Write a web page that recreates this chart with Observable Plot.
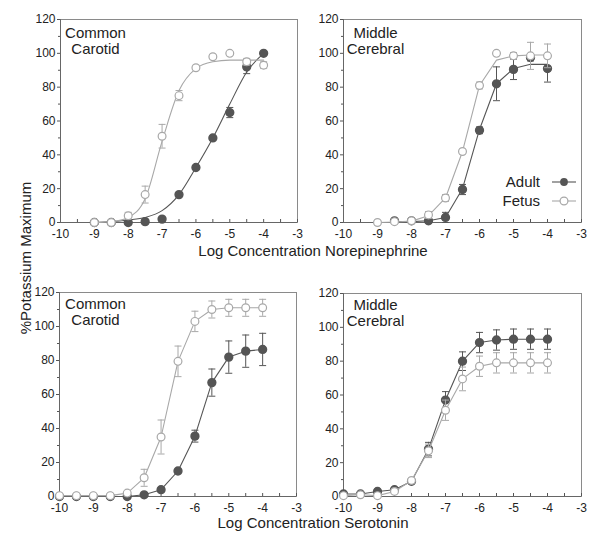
<!DOCTYPE html>
<html><head><meta charset="utf-8">
<script src="https://cdn.jsdelivr.net/npm/d3@7"></script>
<script src="https://cdn.jsdelivr.net/npm/@observablehq/plot@0.6"></script>
<style>
body{margin:0;background:#fff;font-family:"Liberation Sans",Arial,sans-serif;}
#fig{position:relative;width:600px;height:539px;overflow:hidden;}
#fig > svg{position:absolute;}
</style></head><body><div id="fig"></div>
<script>
// ---- axes ----
const xTicks = [-10, -9, -8, -7, -6, -5, -4, -3];
const xMinorTicks = [-9.5, -8.5, -7.5, -6.5, -5.5, -4.5, -3.5];
const yTicks = [0, 20, 40, 60, 80, 100, 120];
const yMinorTicks = [10, 30, 50, 70, 90, 110];

// ---- Norepinephrine, Common Carotid ----
const neConc = [-9, -8.5, -8, -7.5, -7, -6.5, -6, -5.5, -5, -4.5, -4];
const ccNeAdult = [0, 0, 0, 0.5, 2, 16.5, 32.5, 50, 65, 92, 100];
const ccNeAdultErr = [0, 0, 0, 0, 0, 1, 1, 1, 3, 4, 0];
const ccNeFetus = [0, 0, 4, 16.5, 51, 75, 91.5, 98, 100, 95, 93];
const ccNeFetusErr = [0, 0, 2, 5, 7, 3, 1, 1, 1, 2, 2];
const ccNeAdultFit = [0, 0.5, 1.5, 3, 7, 16.5, 32.5, 50, 70, 89, 100];
const ccNeFetusFit = [0, 0.5, 3, 14, 48, 78, 91, 95, 96, 96, 96];

// ---- Norepinephrine, Middle Cerebral ----
const mcNeAdultConc = [-8.5, -8, -7.5, -7, -6.5, -6, -5.5, -5, -4.5, -4];
const mcNeAdult = [1, 1, 1, 3, 19.5, 54.5, 82, 90.5, 97.5, 91];
const mcNeAdultErr = [0, 0, 0, 3, 3, 2, 10, 6, 2, 8];
const mcNeFetus = [0, 0.5, 1, 4.5, 14.5, 42, 81, 100, 98.5, 98.5, 98.5];
const mcNeFetusErr = [0, 0, 0, 2, 2, 1, 2, 1, 2, 8, 7];
const mcNeAdultFit = [0.5, 0.5, 1, 3, 20, 55, 82, 91, 93.5, 93.5];
const mcNeFetusFit = [0, 0.3, 0.8, 4, 14.5, 42, 81, 96, 98.5, 99, 99];

// ---- Serotonin ----
const seConc = [-10, -9.5, -9, -8.5, -8, -7.5, -7, -6.5, -6, -5.5, -5, -4.5, -4];
const ccSeAdult = [0, 0, 0, 0, 0, 1, 4, 15, 35.5, 67, 82, 85.5, 86.5];
const ccSeAdultErr = [0, 0, 0, 0, 0, 0, 1, 1, 3.5, 8, 9.5, 9.5, 9.5];
const ccSeFetus = [0.5, 0.5, 0.5, 0.5, 2, 11, 35, 79.5, 103, 110, 111, 111, 111];
const ccSeFetusErr = [0, 0, 0, 0, 0, 5, 10, 9, 6, 5, 5, 5, 5];
const mcSeAdult = [1.5, 1.5, 3, 4, 9, 28, 57, 80, 91, 92.5, 93, 93, 93];
const mcSeAdultErr = [0, 0, 0, 0, 1, 4, 5, 5.5, 6, 6, 6, 6, 6];
const mcSeFetus = [0.5, 1, 0.5, 3, 9.5, 27, 51, 69.5, 77, 79, 79, 79, 79];
const mcSeFetusErr = [0, 0, 0, 0, 1, 4, 6, 7, 6, 6, 6, 6, 6];

const adultColor = "#555555";
const fetusColor = "#a8a8a8";

const capSymbol = {draw(ctx, size) { const w = Math.sqrt(size / Math.PI); ctx.moveTo(-w, 0); ctx.lineTo(w, 0); }};

function rows(xs, ys, es) { return xs.map((x, i) => ({x, y: ys[i], e: es ? es[i] : 0})); }

function errMarks(data, color) {
  const d = data.filter(r => r.e > 0);
  return [
    Plot.ruleX(d, {x: "x", y1: r => r.y - r.e, y2: r => r.y + r.e, stroke: color, strokeWidth: 1}),
    Plot.dot(d, {x: "x", y: r => r.y + r.e, symbol: capSymbol, r: 3.5, stroke: color, strokeWidth: 1}),
    Plot.dot(d, {x: "x", y: r => r.y - r.e, symbol: capSymbol, r: 3.5, stroke: color, strokeWidth: 1})
  ];
}

function panel(o) {
  const adult = rows(o.adultX, o.adultY, o.adultErr);
  const fetus = rows(o.fetusX, o.fetusY, o.fetusErr);
  const aFit = rows(o.adultFitX, o.adultFit);
  const fFit = rows(o.fetusFitX, o.fetusFit);
  const svg = Plot.plot({
    width: o.width, height: o.height,
    marginLeft: o.ml, marginRight: o.mr, marginTop: o.mt, marginBottom: o.mb,
    x: {domain: [-10, -3]},
    y: {domain: [0, 120]},
    style: {fontFamily: "'Liberation Sans', Arial, sans-serif", fontSize: "12px", background: "transparent", overflow: "visible", color: "#222"},
    marks: [
      Plot.frame({stroke: "#8a8a8a"}),
      Plot.axisY(yTicks, {tickSize: 3, tickPadding: 2, stroke: "#555", fill: "#222", label: null, tickFormat: d => `${d}`}),
      Plot.axisY(yMinorTicks, {tickSize: 2, tickFormat: () => "", stroke: "#555", label: null}),
      Plot.axisX(xTicks, {tickSize: 0, tickPadding: 7, fill: "#222", label: null, tickFormat: d => `${d}`}),
      Plot.axisX([...xTicks, ...xMinorTicks], {tickSize: -3, tickFormat: () => "", stroke: "#555", label: null}),
      Plot.ruleY([0], {stroke: "#666"}),
      Plot.ruleX([-10], {stroke: "#666"}),
      ...errMarks(adult, adultColor),
      Plot.line(aFit, {x: "x", y: "y", stroke: adultColor, strokeWidth: 1.1, curve: o.curve}),
      Plot.dot(adult, {x: "x", y: "y", r: 3.9, fill: adultColor, stroke: adultColor}),
      ...errMarks(fetus, fetusColor),
      Plot.line(fFit, {x: "x", y: "y", stroke: fetusColor, strokeWidth: 1.1, curve: o.curve}),
      Plot.dot(fetus, {x: "x", y: "y", r: 3.9, fill: "white", stroke: fetusColor, strokeWidth: 1.2}),
      Plot.text([o.label], {frameAnchor: "top-left", dx: o.ldx, dy: o.ldy, textAnchor: "middle", lineAnchor: "top", lineHeight: 1.13, fontSize: 15, fill: "#222"})
    ]
  });
  svg.style.left = o.left + "px";
  svg.style.top = o.top + "px";
  document.getElementById("fig").appendChild(svg);
}

panel({left: 0, top: 0, width: 320, height: 270, ml: 60, mr: 23, mt: 19, mb: 48,
  adultX: neConc, adultY: ccNeAdult, adultErr: ccNeAdultErr,
  fetusX: neConc, fetusY: ccNeFetus, fetusErr: ccNeFetusErr,
  adultFitX: neConc, adultFit: ccNeAdultFit, fetusFitX: neConc, fetusFit: ccNeFetusFit,
  curve: "monotone-x", label: "Common\nCarotid", ldx: 35, ldy: 6});

panel({left: 300, top: 0, width: 300, height: 270, ml: 43, mr: 19, mt: 19, mb: 48,
  adultX: mcNeAdultConc, adultY: mcNeAdult, adultErr: mcNeAdultErr,
  fetusX: neConc, fetusY: mcNeFetus, fetusErr: mcNeFetusErr,
  adultFitX: mcNeAdultConc, adultFit: mcNeAdultFit, fetusFitX: neConc, fetusFit: mcNeFetusFit,
  curve: "linear", label: "Middle\nCerebral", ldx: 32, ldy: 6});

panel({left: 0, top: 270, width: 320, height: 269, ml: 59, mr: 24, mt: 22, mb: 43,
  adultX: seConc, adultY: ccSeAdult, adultErr: ccSeAdultErr,
  fetusX: seConc, fetusY: ccSeFetus, fetusErr: ccSeFetusErr,
  adultFitX: seConc, adultFit: ccSeAdult, fetusFitX: seConc, fetusFit: ccSeFetus,
  curve: "linear", label: "Common\nCarotid", ldx: 36, ldy: 4});

panel({left: 300, top: 270, width: 300, height: 269, ml: 43, mr: 19, mt: 23, mb: 43,
  adultX: seConc, adultY: mcSeAdult, adultErr: mcSeAdultErr,
  fetusX: seConc, fetusY: mcSeFetus, fetusErr: mcSeFetusErr,
  adultFitX: seConc, adultFit: mcSeAdult, fetusFitX: seConc, fetusFit: mcSeFetus,
  curve: "linear", label: "Middle\nCerebral", ldx: 32, ldy: 4});

// ---- titles & legend ----
const ns = "http://www.w3.org/2000/svg";
const ov = document.createElementNS(ns, "svg");
ov.setAttribute("width", 600); ov.setAttribute("height", 539);
ov.style.left = "0px"; ov.style.top = "0px";
ov.setAttribute("font-family", "'Liberation Sans', Arial, sans-serif");
ov.innerHTML = `
<text x="313" y="256" text-anchor="middle" font-size="15" fill="#222">Log Concentration Norepinephrine</text>
<text x="313" y="528" text-anchor="middle" font-size="15" fill="#222">Log Concentration Serotonin</text>
<text transform="translate(31,258) rotate(-90)" text-anchor="middle" font-size="15" fill="#222">%Potassium Maximum</text>
<text x="540" y="187" text-anchor="end" font-size="15" fill="#222">Adult</text>
<line x1="552" x2="576" y1="182" y2="182" stroke="${adultColor}" stroke-width="1.1"/>
<circle cx="564" cy="182" r="3.9" fill="${adultColor}"/>
<text x="540" y="206" text-anchor="end" font-size="15" fill="#222">Fetus</text>
<line x1="552" x2="576" y1="201" y2="201" stroke="${fetusColor}" stroke-width="1.1"/>
<circle cx="564" cy="201" r="3.9" fill="white" stroke="${fetusColor}" stroke-width="1.2"/>`;
document.getElementById("fig").appendChild(ov);
</script></body></html>
